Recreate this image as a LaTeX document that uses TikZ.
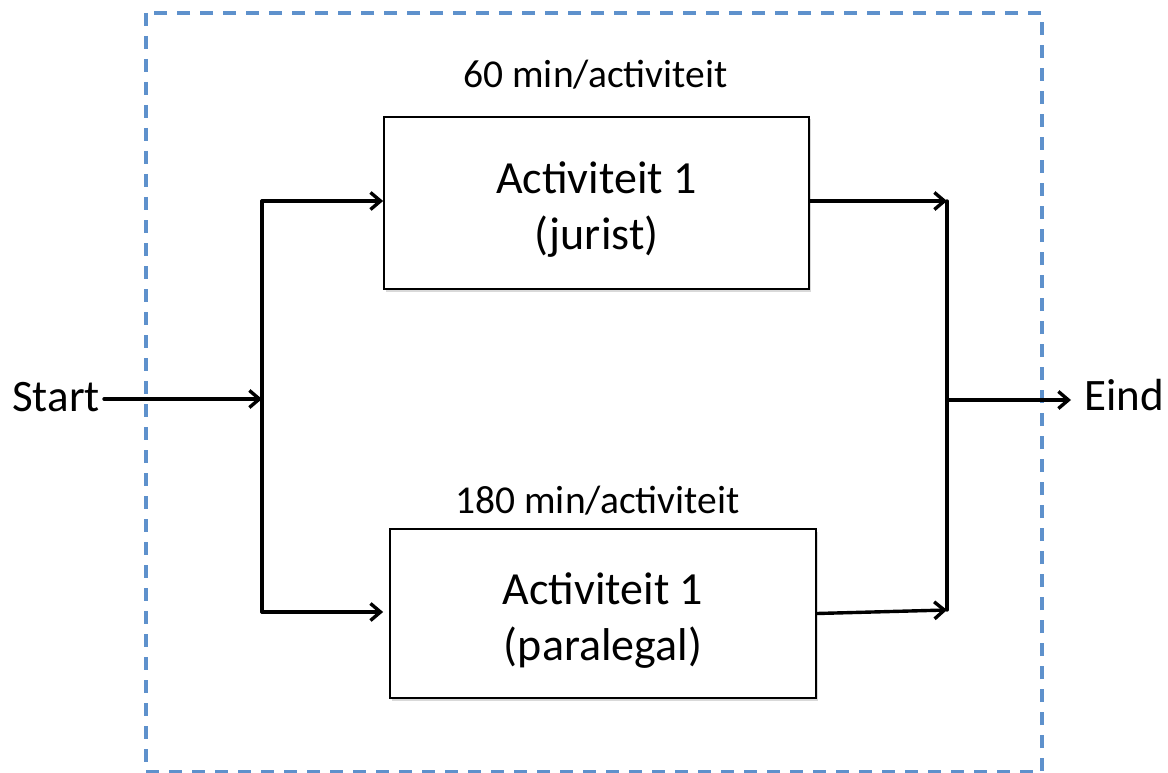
\documentclass[tikz,border=0pt]{standalone}
\usepackage{fontspec}
\setmainfont{Carlito}
\usetikzlibrary{arrows.meta,shadows}

\definecolor{framblue}{RGB}{94,145,204}

\tikzset{
  conn/.style={line width=3.4pt, line cap=round, line join=miter},
  arr/.style={conn, -{Straight Barb[length=10pt,width=17pt,line width=3.4pt]}},
  actbox/.style={draw, line width=1.8pt, fill=white, rectangle,
    drop shadow={shadow xshift=2pt, shadow yshift=-2.5pt, opacity=0.3, fill=gray}},
  boxtext/.style={inner sep=0pt, align=center, font=\fontsize{46}{56}\selectfont, yshift=-7pt},
  endlabel/.style={inner sep=0pt, font=\fontsize{45}{54}\selectfont},
  tijd/.style={inner sep=0pt, font=\fontsize{39.5}{48}\selectfont}
}

\begin{document}
\begin{tikzpicture}[x=1pt,y=-1pt]
  \useasboundingbox (0,0) rectangle (1168,773);

  % systeemgrens
  \draw[framblue, line width=3.8pt, dash pattern=on 13pt off 10pt] (146,13) rectangle (1042,772);

  % activiteiten
  \node[actbox, minimum width=425pt, minimum height=172pt,
        label={[boxtext]center:Activiteit 1\\(jurist)}] (jurist) at (596.5,203) {};
  \node[actbox, minimum width=426pt, minimum height=169pt,
        label={[boxtext]center:Activiteit 1\\(paralegal)}] (paralegal) at (603,613.5) {};
  %
  \node[tijd, anchor=base] (tijdjur) at (595.5,88) {60 min/activiteit};
  \node[tijd, anchor=base] (tijdpar) at (597.5,513) {180 min/activiteit};

  % begin en eind
  \node[endlabel, inner xsep=4pt, anchor=base east] (start) at (104,411) {Start};
  \node[endlabel, inner xsep=13pt, anchor=base west] (eind) at (1071,410.5) {Eind};

  % splitsen
  \coordinate (splitmid) at (262,399);
  \coordinate (splittop) at (262,201);
  \coordinate (splitbot) at (262,612);
  \draw[arr] (splitmid -| start.east) -- (splitmid);
  \draw[conn] (splittop) -- (splitbot);
  \draw[arr] (splittop) -- (splittop -| jurist.west);
  \draw[arr, shorten >=6pt] (splitbot) -- (splitbot -| paralegal.west);

  % samenvoegen
  \coordinate (mergetop) at (947,201);
  \coordinate (mergemid) at (947,400);
  \coordinate (mergebot) at (947,610);
  \draw[arr] (mergetop -| jurist.east) -- (mergetop);
  \draw[arr] (paralegal.east) -- (mergebot);
  \draw[conn] (mergetop) -- (mergebot);
  \draw[arr] (mergemid) -- (mergemid -| eind.west);
\end{tikzpicture}
\end{document}
